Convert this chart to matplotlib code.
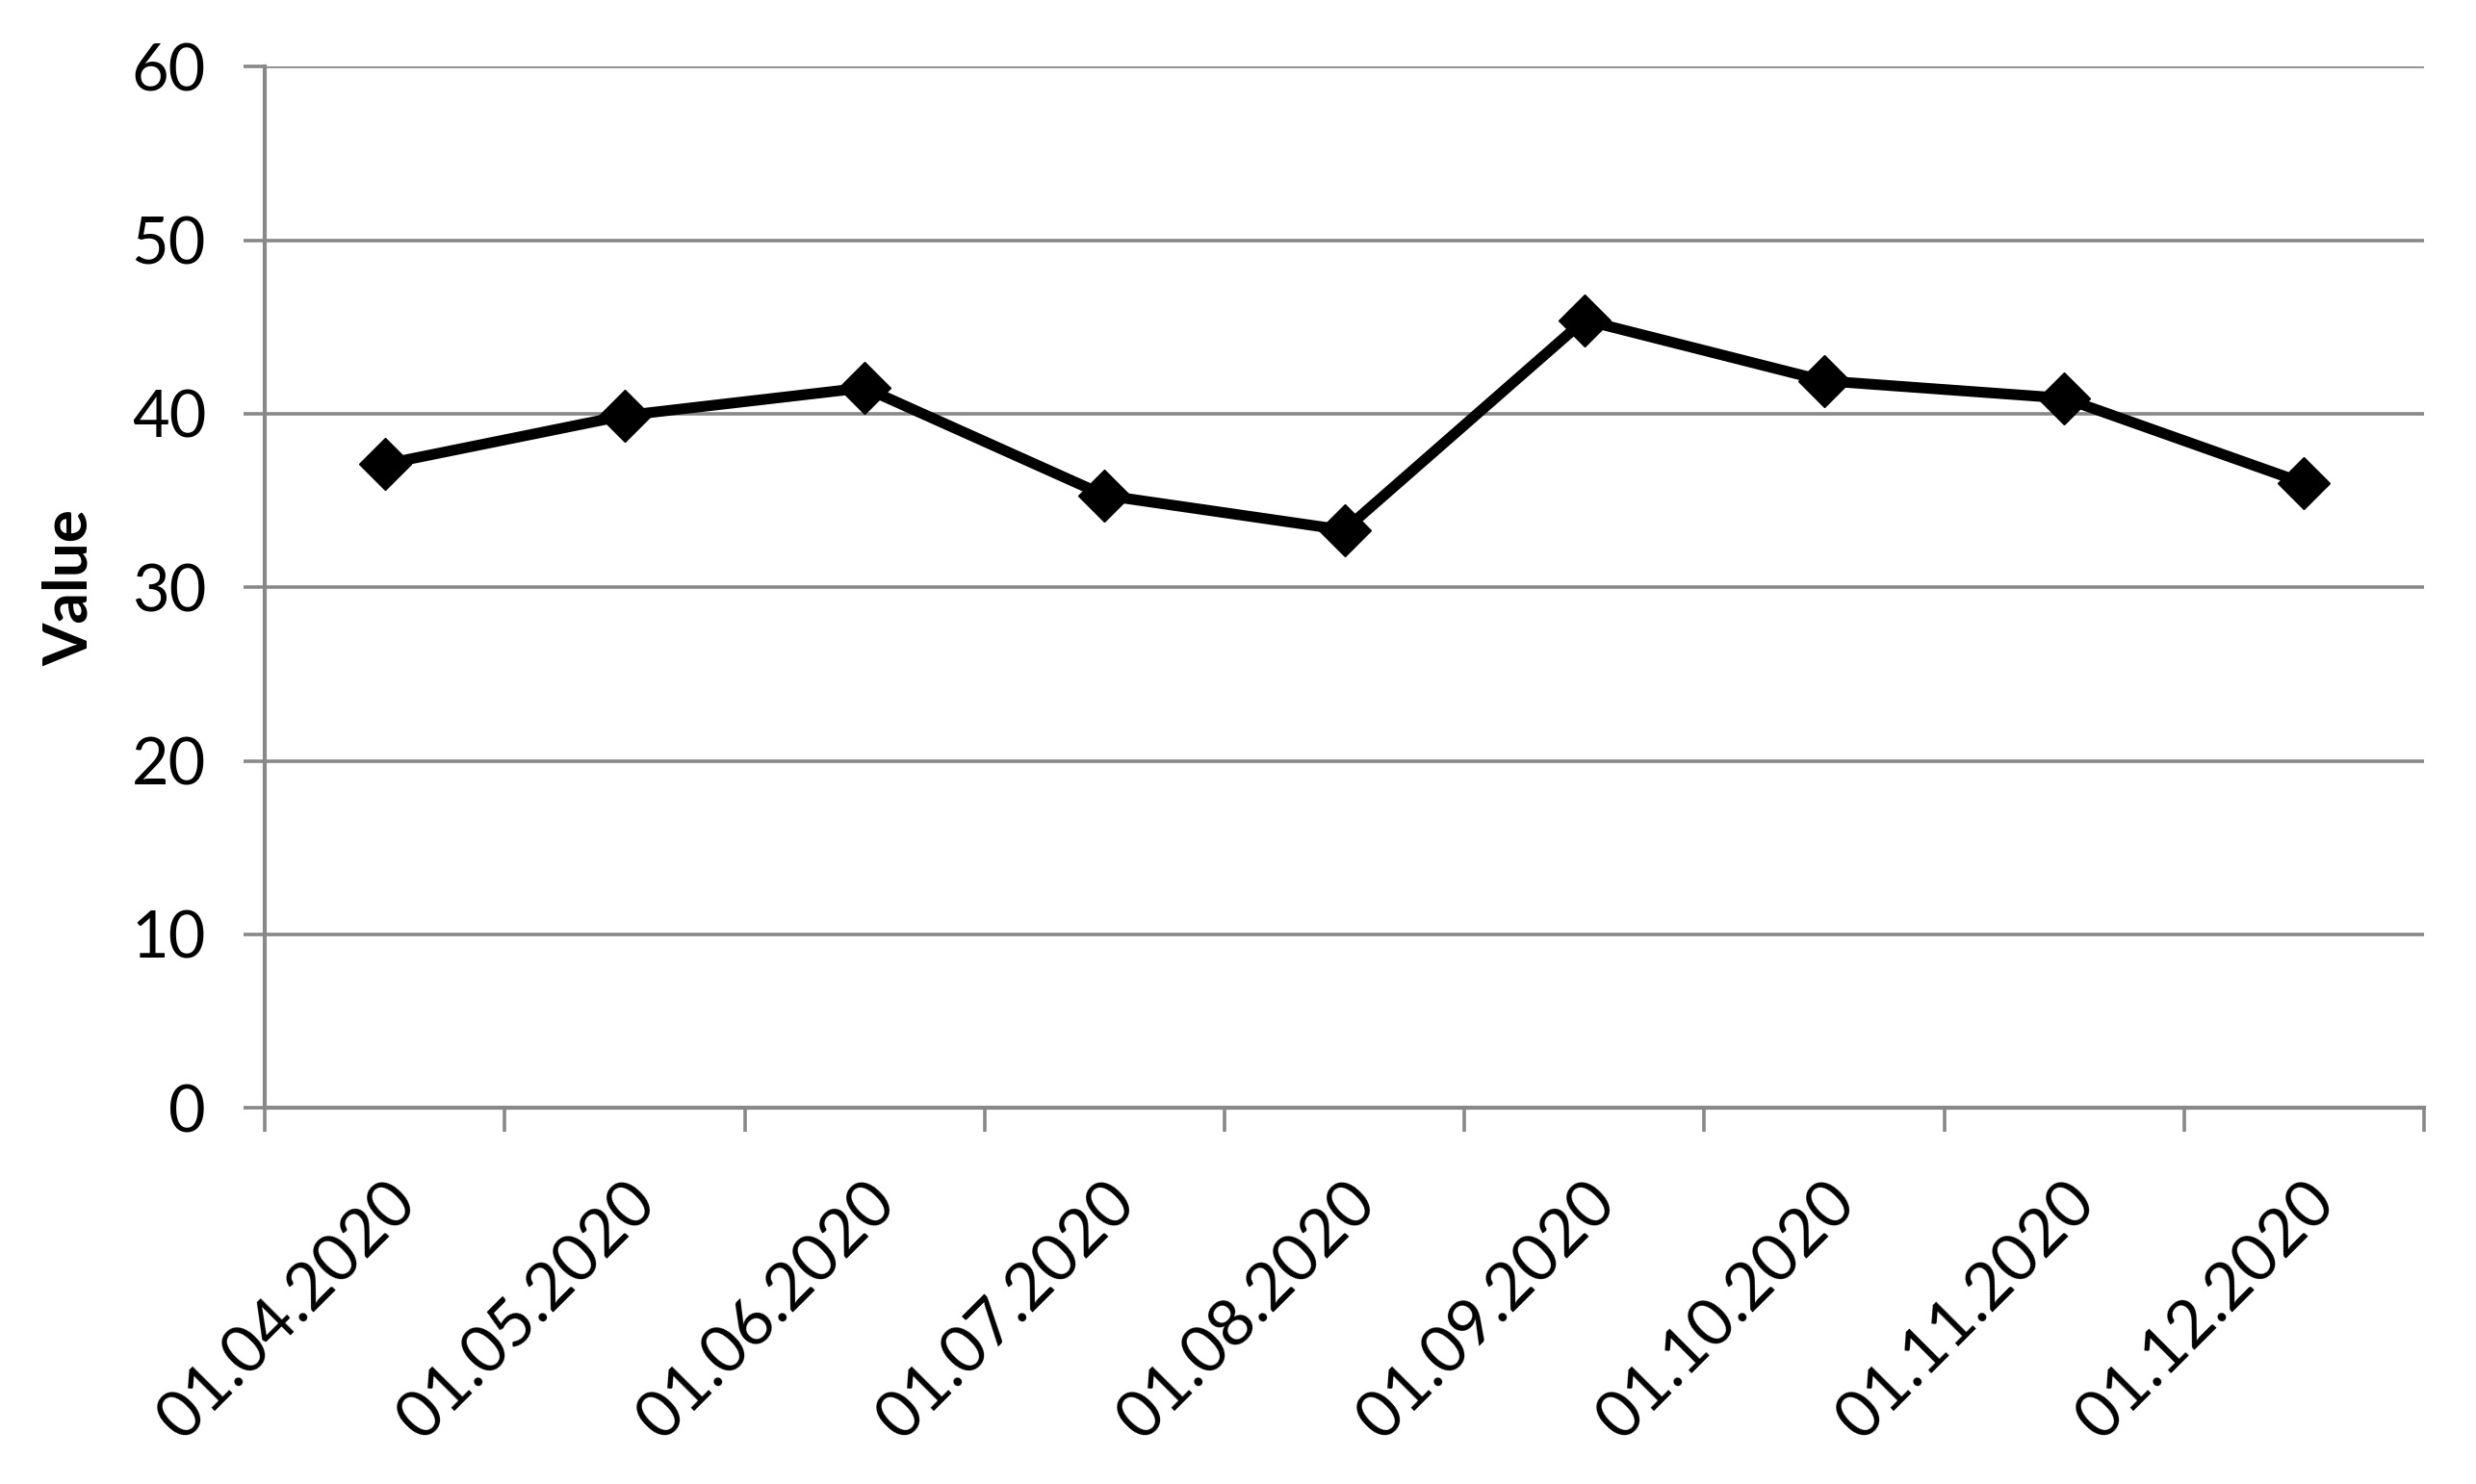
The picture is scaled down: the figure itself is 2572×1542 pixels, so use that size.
import matplotlib.pyplot as plt
import numpy as np

# --- data ---
dates = ['01.04.2020', '01.05.2020', '01.06.2020', '01.07.2020', '01.08.2020',
         '01.09.2020', '01.10.2020', '01.11.2020', '01.12.2020']
values = [37.1, 39.9, 41.5, 35.3, 33.3, 45.4, 41.9, 40.9, 36.0]
y_ticks = [0, 10, 20, 30, 40, 50, 60]

plt.rcParams['font.family'] = ['Lato', 'DejaVu Sans']
grid_grey = '#888888'

fig = plt.figure(figsize=(25.72, 15.42), dpi=100)
ax = fig.add_axes([0.107, 0.2535, 0.872, 0.7015])

x = np.arange(len(dates))
ax.plot(x, values, color='black', linewidth=8, marker='D', markersize=27,
        markerfacecolor='black', markeredgecolor='black', zorder=3)

# y axis + horizontal gridlines
ax.set_ylim(0, 60)
ax.set_yticks(y_ticks)
ax.yaxis.grid(True, color=grid_grey, linewidth=2.6)
ax.set_axisbelow(True)
ax.tick_params(axis='y', which='major', length=16, width=2.6, color=grid_grey,
               labelsize=48, pad=28)

# x axis: ticks between categories, labels at the centre
ax.set_xlim(-0.5, len(dates) - 0.5)
ax.set_xticks(x)
ax.set_xticklabels(dates, rotation=45, ha='right', rotation_mode='anchor')
ax.set_xticks(np.arange(len(dates) + 1) - 0.5, minor=True)
ax.tick_params(axis='x', which='major', length=0, labelsize=49, pad=48)
ax.tick_params(axis='x', which='minor', length=18, width=2.6, color=grid_grey)

for side in ['top', 'right']:
    ax.spines[side].set_visible(False)
for side in ['left', 'bottom']:
    ax.spines[side].set_color(grid_grey)
    ax.spines[side].set_linewidth(3)

ax.set_ylabel('Value', fontsize=46, fontweight='bold', labelpad=26)

fig.savefig('out.png', dpi=100)
